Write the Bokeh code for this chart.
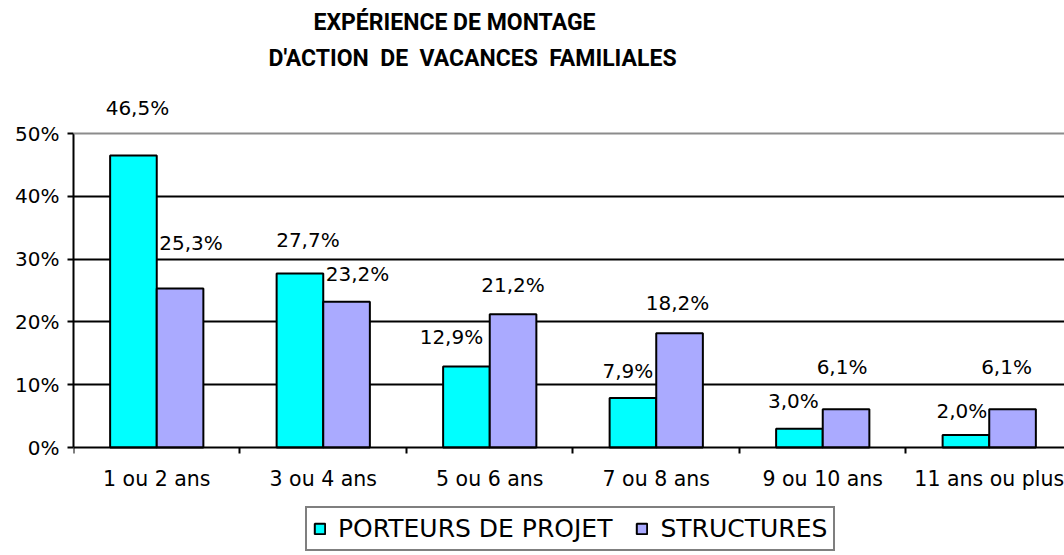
from bokeh.plotting import figure
from bokeh.models import (ColumnDataSource, Range1d, FixedTicker, LabelSet, Label,
                          Span, Legend, LegendItem)
from bokeh.core.properties import value
from bokeh.embed import file_html
from bokeh.resources import INLINE

categories = ["1 ou 2 ans", "3 ou 4 ans", "5 ou 6 ans", "7 ou 8 ans", "9 ou 10 ans", "11 ans ou plus"]
porteurs = [46.5, 27.7, 12.9, 7.9, 3.0, 2.0]
structures = [25.3, 23.2, 21.2, 18.2, 6.1, 6.1]
porteurs_labels = ["46,5%", "27,7%", "12,9%", "7,9%", "3,0%", "2,0%"]
structures_labels = ["25,3%", "23,2%", "21,2%", "18,2%", "6,1%", "6,1%"]
y_ticks = [0, 10, 20, 30, 40, 50]
y_tick_labels = ["0%", "10%", "20%", "30%", "40%", "50%"]
series_names = ["PORTEURS DE PROJET", "STRUCTURES"]
# wide word gaps kept with a no-break space so SVG does not collapse them
title_lines = ["EXPÉRIENCE DE MONTAGE", "D'ACTION\u00a0 DE\u00a0 VACANCES\u00a0 FAMILIALES"]

# style: label pixel offsets (dx, dy up) relative to bar top centre
p_dx = [4, 8, -15, -5, -6, -4]
p_dy = [47, 34, 29, 27, 28, 24]
s_dx = [11, 11, 0, -2, -4, -6]
s_dy = [46, 28, 29, 30, 42, 42]

FONT = "DejaVu Sans"
TITLE_FONT = "Roboto"
CYAN = "#00FFFF"
PERI = "#AAAAFF"
BAR_W = 0.28
OFF = 0.14

n = len(categories)
centers = [i + 0.5 for i in range(n)]

src_p = ColumnDataSource(dict(x=[c - OFF for c in centers], top=porteurs,
                              lab=porteurs_labels, dx=p_dx, dy=p_dy))
src_s = ColumnDataSource(dict(x=[c + OFF for c in centers], top=structures,
                              lab=structures_labels, dx=s_dx, dy=s_dy))

p = figure(width=1064, height=555, output_backend="svg", toolbar_location=None,
           x_range=Range1d(0, 5.952), y_range=Range1d(-17.197, 71.18),
           min_border_left=73, min_border_right=0, min_border_top=0, min_border_bottom=0)
p.outline_line_color = None
p.background_fill_color = "white"
p.border_fill_color = "white"

r1 = p.vbar(x="x", top="top", width=BAR_W, bottom=0, source=src_p,
            fill_color=CYAN, line_color="black", line_width=2)
r2 = p.vbar(x="x", top="top", width=BAR_W, bottom=0, source=src_s,
            fill_color=PERI, line_color="black", line_width=2)

# axes
p.xaxis.fixed_location = 0
p.xaxis.ticker = FixedTicker(ticks=centers, minor_ticks=list(range(n + 1)))
p.xaxis.major_label_overrides = {c: cat for c, cat in zip(centers, categories)}
p.xaxis.major_tick_out = 0
p.xaxis.major_tick_in = 0
p.xaxis.minor_tick_out = 6
p.xaxis.minor_tick_in = 0
p.xaxis.minor_tick_line_width = 2
p.xaxis.minor_tick_line_color = "black"
p.xaxis.axis_line_width = 2
p.xaxis.axis_line_color = "black"
p.xaxis.major_label_standoff = 13
p.xaxis.major_label_text_font = FONT
p.xaxis.major_label_text_font_size = "20.5px"
p.xaxis.major_label_text_color = "black"

p.yaxis.ticker = FixedTicker(ticks=y_ticks, minor_ticks=[])
p.yaxis.bounds = (y_ticks[0], y_ticks[-1])
p.yaxis.major_label_overrides = {t: l for t, l in zip(y_ticks, y_tick_labels)}
p.yaxis.major_tick_out = 6
p.yaxis.major_tick_in = 0
p.yaxis.major_tick_line_width = 2
p.yaxis.major_tick_line_color = "black"
p.yaxis.axis_line_width = 2
p.yaxis.axis_line_color = "black"
p.yaxis.major_label_standoff = 8
p.yaxis.major_label_text_font = FONT
p.yaxis.major_label_text_font_size = "20px"
p.yaxis.major_label_text_color = "black"

p.xgrid.visible = False
p.ygrid.ticker = FixedTicker(ticks=y_ticks[1:-1])
p.ygrid.grid_line_color = "black"
p.ygrid.grid_line_width = 2
p.add_layout(Span(location=y_ticks[-1], dimension="width", line_color="#8C8C8C", line_width=2))

# value labels
for src in (src_p, src_s):
    p.add_layout(LabelSet(x="x", y="top", text="lab", source=src, x_offset="dx", y_offset="dy",
                          text_align="center", text_baseline="middle",
                          text_font=value(FONT), text_font_size=value("20px"), text_color="black"))

# title (screen units measured from frame bottom-left)
p.add_layout(Label(x=381, y=533, x_units="screen", y_units="screen", text=title_lines[0],
                   text_align="center", text_baseline="middle",
                   text_font=TITLE_FONT, text_font_style="bold",
                   text_font_size="23px", text_color="black"))
p.add_layout(Label(x=399, y=497, x_units="screen", y_units="screen", text=title_lines[1],
                   text_align="center", text_baseline="middle",
                   text_font=TITLE_FONT, text_font_style="bold",
                   text_font_size="23px", text_color="black"))

legend = Legend(items=[LegendItem(label=series_names[0], renderers=[r1]),
                       LegendItem(label=series_names[1], renderers=[r2])],
                orientation="horizontal", location=(232, 4),
                glyph_width=13, glyph_height=13, label_standoff=12, spacing=23,
                padding=6, margin=0,
                label_text_font=FONT, label_text_font_size="25px", label_text_color="black",
                border_line_color="black", border_line_width=2,
                background_fill_color="white", background_fill_alpha=1)
p.add_layout(legend, "center")

open("out.html", "w").write(file_html(p, INLINE))
